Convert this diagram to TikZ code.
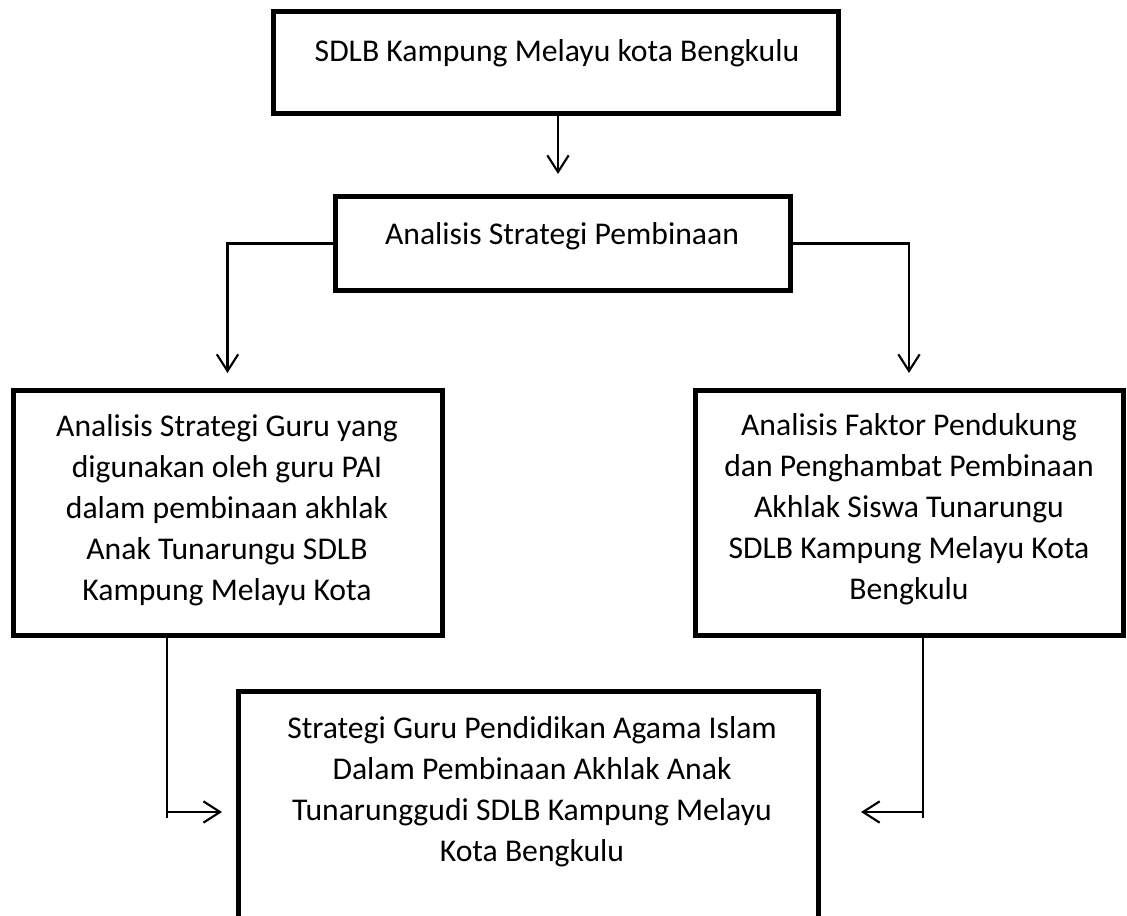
\documentclass[tikz,border=0pt]{standalone}
\usepackage{fontspec}
\setmainfont{Carlito}
\usetikzlibrary{arrows.meta}
\def\pu{0.75pt}
\begin{document}
\begin{tikzpicture}[x=0.75pt,y=-0.75pt,
  box/.style={draw, line width=3.75pt, inner sep=0pt, rectangle},
  txt/.style={font=\fontsize{23.75pt}{30.75pt}\selectfont, align=center, inner sep=0pt},
  arr/.style={line width=1.6pt, -{Straight Barb[length=12.5pt,width=16pt]}},
  tick/.style={line width=1.3pt}]
\useasboundingbox (0,0) rectangle (1127,916);
\clip (0,0) rectangle (1127,916);
\fill[white] (0,0) rectangle (1127,916);
% boxes
\node[box, minimum width=565*\pu, minimum height=102*\pu] (T) at (556,63) {};
\node[box, minimum width=455*\pu, minimum height=93*\pu] (S) at (562.5,243.5) {};
\node[box, minimum width=429*\pu, minimum height=245*\pu] (L) at (227.5,512.5) {};
\node[box, minimum width=428*\pu, minimum height=245*\pu] (R) at (909,512.5) {};
\node[box, minimum width=580*\pu, minimum height=250*\pu] (B) at (528,816) {};
% texts
\node[txt, anchor=base] (t1) at (557,62) {SDLB Kampung Melayu kota Bengkulu};
\node[txt, anchor=base] (t2) at (562,245) {Analisis Strategi Pembinaan};
\node[txt, anchor=north] (t3) at (227,414) {Analisis Strategi Guru yang\\digunakan oleh guru PAI\\dalam pembinaan akhlak\\Anak Tunarungu SDLB\\Kampung Melayu Kota};
\node[txt, anchor=north] (t4) at (909,413) {Analisis Faktor Pendukung\\dan Penghambat Pembinaan\\Akhlak Siswa Tunarungu\\SDLB Kampung Melayu Kota\\Bengkulu};
\node[txt, anchor=north] (t5) at (532,716) {Strategi Guru Pendidikan Agama Islam\\Dalam Pembinaan Akhlak Anak\\Tunarunggudi SDLB Kampung Melayu\\Kota Bengkulu};
% connectors
\coordinate (a1) at (558,0);
\draw[arr, shorten >=15.4pt] (T.south -| a1) -- (S.north -| a1);
\draw[arr, shorten >=10.9pt] (S.west) -| (L.north);
\draw[arr, shorten >=10.9pt] (S.east) -| (R.north);
\coordinate (lc) at (167,812);
\coordinate (lce) at (167,818);
\draw[tick] (L.south -| lc) -- (lce);
\draw[arr, shorten >=10.1pt] (lc) -- (B.west |- lc);
\coordinate (rc) at (923,812);
\coordinate (rce) at (923,818);
\draw[tick] (R.south -| rc) -- (rce);
\draw[arr, shorten >=30.4pt] (rc) -- (B.east |- rc);
\end{tikzpicture}
\end{document}
